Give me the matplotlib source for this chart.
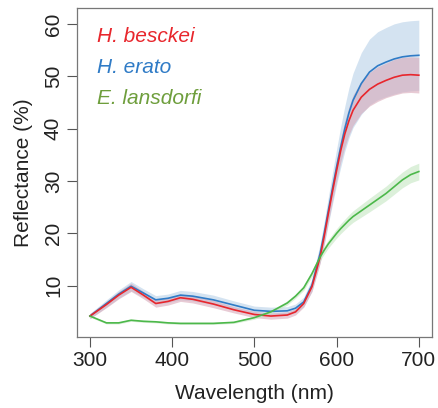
import matplotlib
matplotlib.use("Agg")
import matplotlib.pyplot as plt

# wavelength (nm) and mean reflectance (%)
wavelength = [300, 320, 335, 350, 365, 380, 395, 410, 425, 450, 475, 500, 520, 540,
              550, 560, 570, 580, 585, 590, 595, 600, 605, 610, 615, 620, 630, 640,
              650, 660, 670, 680, 690, 700]

besckei = [4.2, 6.4, 8.2, 9.7, 8.2, 6.6, 7.0, 7.7, 7.4, 6.5, 5.4, 4.5, 4.2, 4.4,
           5.0, 6.6, 9.8, 15.5, 19.5, 23.8, 28.0, 32.0, 35.8, 39.0, 41.5, 43.5, 46.0, 47.5,
           48.5, 49.2, 49.8, 50.2, 50.3, 50.2]
besckei_sd = [0.5, 0.6, 0.7, 0.8, 0.7, 0.7, 0.7, 0.7, 0.7, 0.7, 0.6, 0.6, 0.6, 0.6,
              0.6, 0.7, 0.9, 1.2, 1.4, 1.6, 1.8, 2.0, 2.2, 2.5, 2.7, 2.9, 3.1, 3.2,
              3.3, 3.3, 3.4, 3.4, 3.4, 3.4]

erato = [4.2, 6.6, 8.4, 9.9, 8.6, 7.3, 7.6, 8.2, 8.0, 7.3, 6.3, 5.3, 5.1, 5.2,
         5.7, 6.9, 10.1, 16.2, 20.1, 24.4, 28.6, 32.7, 36.5, 40.0, 43.0, 45.4, 48.6, 50.8,
         52.0, 52.7, 53.3, 53.7, 53.9, 54.0]
erato_sd = [0.5, 0.7, 0.8, 0.9, 0.8, 0.8, 0.8, 0.9, 0.9, 0.9, 0.8, 0.8, 0.8, 0.8,
            0.8, 0.9, 1.2, 1.8, 2.2, 2.6, 3.0, 3.4, 3.9, 4.3, 4.8, 5.2, 5.9, 6.3,
            6.5, 6.6, 6.7, 6.7, 6.7, 6.7]

lansdorfi = [4.2, 2.9, 2.9, 3.4, 3.2, 3.1, 2.9, 2.8, 2.8, 2.8, 3.0, 3.9, 5.0, 6.7,
             8.0, 9.6, 12.3, 15.5, 16.8, 18.0, 19.0, 20.0, 20.9, 21.7, 22.5, 23.2, 24.3, 25.4,
             26.5, 27.6, 28.9, 30.2, 31.2, 31.8]
lansdorfi_sd = [0.2, 0.2, 0.2, 0.2, 0.2, 0.2, 0.2, 0.2, 0.2, 0.2, 0.2, 0.3, 0.3, 0.4,
                0.4, 0.5, 0.6, 0.7, 0.75, 0.8, 0.85, 0.9, 0.95, 1.0, 1.05, 1.1, 1.2, 1.3,
                1.35, 1.4, 1.45, 1.5, 1.55, 1.6]

species = ["H. besckei", "H. erato", "E. lansdorfi"]

plt.rcParams['font.family'] = ['Liberation Sans', 'DejaVu Sans']

fig = plt.figure(figsize=(4.39, 4.08), dpi=100)
ax = fig.add_axes([0.175, 0.174, 0.809, 0.806])

series = [
    (erato, erato_sd, "#2f7bc6", "#b8d1e8"),
    (besckei, besckei_sd, "#e8262c", "#d9a9b9"),
    (lansdorfi, lansdorfi_sd, "#4cb84a", "#c5e6c2"),
]
for mean, sd, line_col, band_col in series:
    lo = [m - s for m, s in zip(mean, sd)]
    hi = [m + s for m, s in zip(mean, sd)]
    ax.fill_between(wavelength, lo, hi, color=band_col, alpha=0.6, lw=0)
for mean, sd, line_col, band_col in series:
    ax.plot(wavelength, mean, color=line_col, lw=1.2)

label_cols = ["#e8262c", "#2f7bc6", "#6e9e3c"]
for i, (name, col) in enumerate(zip(species, label_cols)):
    ax.text(0.057, 0.915 - i * 0.095, name, color=col, style='italic',
            fontsize=15, transform=ax.transAxes, va='center')

ax.set_xlim(284, 716)
ax.set_ylim(0.2, 63)
ax.set_xticks([300, 400, 500, 600, 700])
ax.set_yticks([10, 20, 30, 40, 50, 60])
ax.tick_params(direction='out', length=7, width=0.8, color='#555555',
               labelsize=15, labelcolor='#222222', pad=3)
for lab in ax.get_yticklabels():
    lab.set_rotation(90)
    lab.set_va('center')
for sp in ax.spines.values():
    sp.set_color('#777777')
    sp.set_linewidth(0.9)

ax.set_xlabel("Wavelength (nm)", fontsize=15, color='#222222', labelpad=10)
ax.set_ylabel("Reflectance (%)", fontsize=15, color='#222222', labelpad=8)

fig.savefig("out.png", dpi=100)
